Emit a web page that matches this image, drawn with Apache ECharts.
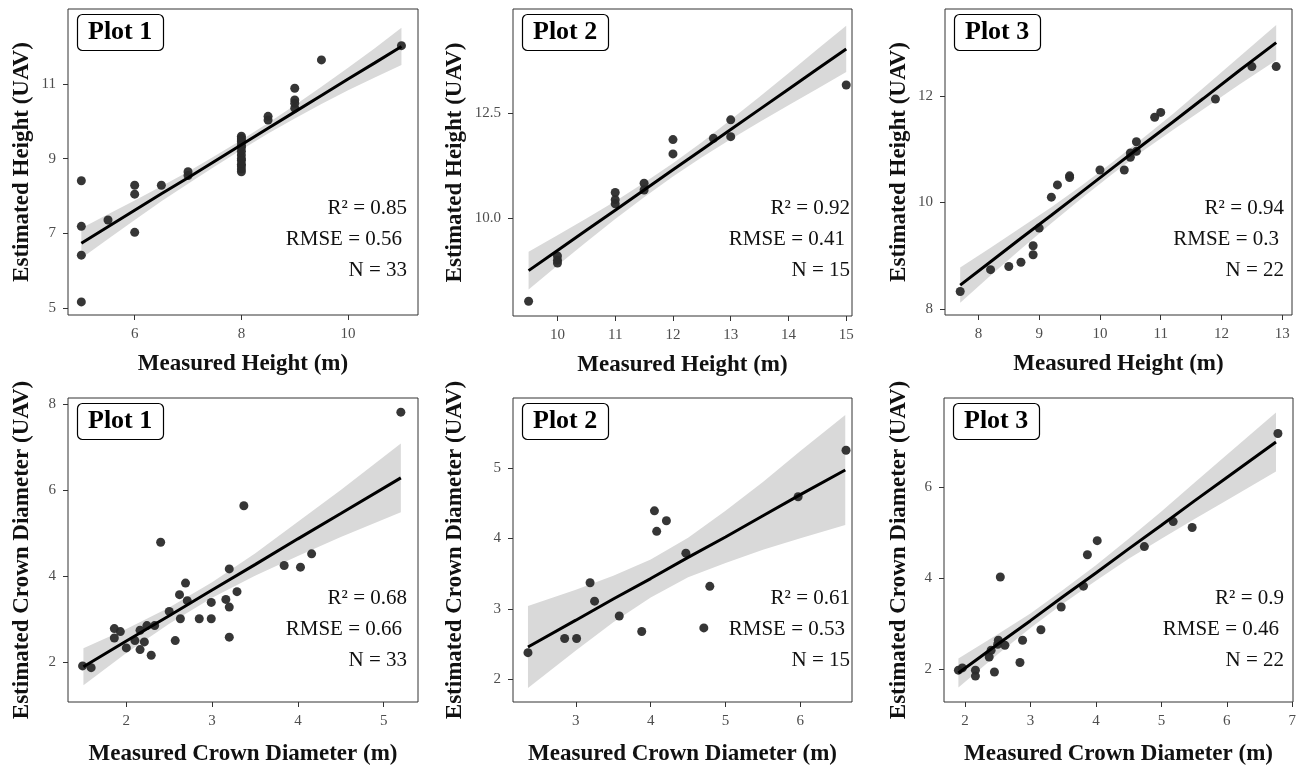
<!DOCTYPE html>
<html>
<head>
<meta charset="utf-8">
<script src="https://cdn.jsdelivr.net/npm/echarts@6/dist/echarts.min.js"></script>
<style>
  html, body { margin: 0; padding: 0; background: #fff; }
  #chart { width: 1302px; height: 767px; }
</style>
</head>
<body>
<div id="chart"></div>
<script>
// ---- data ----
// top row: measured vs estimated height
var x1 = [5, 5, 5, 5, 5.5, 6, 6, 6, 6.5, 7, 7, 8, 8, 8, 8, 8, 8, 8, 8, 8, 8, 8, 8, 8, 8, 8.5, 8.5, 9, 9, 9, 9, 9.5, 11];
var y1 = [8.41, 7.19, 6.42, 5.17, 7.36, 8.29, 8.05, 7.03, 8.29, 8.65, 8.55, 9.6, 9.55, 9.5, 9.45, 9.35, 9.3, 9.2, 9.1, 9.0, 8.95, 8.85, 8.8, 8.72, 8.65, 10.13, 10.03, 10.88, 10.57, 10.48, 10.35, 11.64, 12.02];
var x2 = [9.5, 10, 10, 10, 11, 11, 11, 11.5, 11.5, 12, 12, 12.7, 13, 13, 15];
var y2 = [8.02, 9.1, 9.0, 8.93, 10.61, 10.44, 10.34, 10.83, 10.67, 11.87, 11.53, 11.9, 12.34, 11.94, 13.17];
var x3 = [7.7, 8.2, 8.5, 8.7, 8.9, 8.9, 9.0, 9.2, 9.3, 9.5, 9.5, 10.0, 10.4, 10.5, 10.5, 10.6, 10.6, 10.9, 11.0, 11.9, 12.5, 12.9];
var y3 = [8.33, 8.74, 8.8, 8.88, 9.19, 9.02, 9.52, 10.1, 10.33, 10.5, 10.47, 10.61, 10.61, 10.93, 10.85, 11.14, 10.96, 11.6, 11.69, 11.94, 12.55, 12.55];
// bottom row: measured vs estimated crown diameter
var x4 = [1.49, 1.59, 1.86, 1.86, 1.93, 2.0, 2.1, 2.16, 2.16, 2.21, 2.24, 2.29, 2.33, 2.4, 2.5, 2.57, 2.62, 2.63, 2.69, 2.71, 2.85, 2.99, 2.99, 3.16, 3.2, 3.2, 3.2, 3.29, 3.37, 3.84, 4.03, 4.16, 5.2];
var y4 = [1.91, 1.87, 2.78, 2.56, 2.71, 2.33, 2.5, 2.74, 2.29, 2.47, 2.85, 2.16, 2.85, 4.79, 3.18, 2.5, 3.57, 3.01, 3.84, 3.43, 3.01, 3.39, 3.01, 3.46, 4.17, 3.28, 2.58, 3.64, 5.64, 4.25, 4.21, 4.52, 7.82];
var x5 = [2.36, 2.85, 3.01, 3.19, 3.25, 3.58, 3.88, 4.05, 4.08, 4.21, 4.47, 4.71, 4.79, 5.97, 6.61];
var y5 = [2.38, 2.58, 2.58, 3.37, 3.11, 2.9, 2.68, 4.39, 4.1, 4.25, 3.79, 2.73, 3.32, 4.59, 5.25];
var x6 = [1.9, 1.96, 2.16, 2.16, 2.37, 2.4, 2.45, 2.5, 2.51, 2.54, 2.61, 2.84, 2.88, 3.16, 3.47, 3.81, 3.87, 4.02, 4.74, 5.18, 5.47, 6.78];
var y6 = [1.98, 2.03, 1.98, 1.85, 2.27, 2.42, 1.94, 2.55, 2.64, 4.03, 2.53, 2.15, 2.64, 2.87, 3.37, 3.83, 4.52, 4.83, 4.7, 5.25, 5.12, 7.19];

// fitted line and confidence band (read at a few x positions)
var fx1 = [5, 5.5, 6, 6.5, 7, 7.5, 8, 8.5, 9, 9.5, 10, 10.5, 11];
var fit1 = [6.74, 7.18, 7.62, 8.06, 8.49, 8.93, 9.37, 9.81, 10.25, 10.69, 11.13, 11.56, 12.0];
var lo1 = [6.34, 6.85, 7.36, 7.86, 8.33, 8.79, 9.24, 9.67, 10.07, 10.46, 10.83, 11.17, 11.5];
var hi1 = [7.14, 7.51, 7.88, 8.26, 8.65, 9.07, 9.5, 9.95, 10.43, 10.92, 11.43, 11.95, 12.5];

var fx2 = [9.5, 10, 10.5, 11, 11.5, 12, 12.5, 13, 13.5, 14, 14.5, 15];
var fit2 = [8.75, 9.23, 9.71, 10.19, 10.67, 11.15, 11.63, 12.11, 12.59, 13.07, 13.55, 14.03];
var lo2 = [8.30, 8.87, 9.43, 9.98, 10.50, 10.99, 11.45, 11.88, 12.29, 12.69, 13.08, 13.48];
var hi2 = [9.20, 9.59, 9.99, 10.40, 10.84, 11.31, 11.81, 12.34, 12.89, 13.45, 14.02, 14.58];

var fx3 = [7.7, 8.2, 8.7, 9.2, 9.7, 10.2, 10.7, 11.2, 11.7, 12.3, 12.9];
var fit3 = [8.45, 8.89, 9.33, 9.76, 10.2, 10.64, 11.08, 11.51, 11.95, 12.48, 13.0];
var lo3 = [8.12, 8.63, 9.13, 9.61, 10.08, 10.53, 10.96, 11.36, 11.75, 12.22, 12.67];
var hi3 = [8.78, 9.15, 9.53, 9.91, 10.32, 10.75, 11.2, 11.66, 12.15, 12.74, 13.33];

var fx4 = [1.5, 2, 2.5, 3, 3.5, 4, 4.5, 5.2];
var fit4 = [1.89, 2.49, 3.08, 3.68, 4.27, 4.87, 5.46, 6.29];
var lo4 = [1.46, 2.21, 2.89, 3.50, 4.01, 4.47, 4.91, 5.49];
var hi4 = [2.32, 2.77, 3.27, 3.86, 4.53, 5.27, 6.01, 7.09];

var fx5 = [2.36, 3, 3.5, 4, 4.5, 5, 5.5, 6, 6.6];
var fit5 = [2.46, 2.84, 3.14, 3.43, 3.73, 4.02, 4.32, 4.62, 4.97];
var lo5 = [1.88, 2.41, 2.81, 3.16, 3.45, 3.65, 3.84, 4.00, 4.19];
var hi5 = [3.04, 3.27, 3.47, 3.70, 4.01, 4.39, 4.80, 5.24, 5.75];

var fx6 = [1.9, 2.5, 3, 3.5, 4, 4.5, 5, 5.5, 6, 6.75];
var fit6 = [1.92, 2.55, 3.07, 3.6, 4.12, 4.65, 5.17, 5.7, 6.22, 7.0];
var lo6 = [1.60, 2.33, 2.91, 3.45, 3.95, 4.43, 4.87, 5.30, 5.72, 6.35];
var hi6 = [2.24, 2.77, 3.23, 3.75, 4.29, 4.87, 5.47, 6.10, 6.72, 7.65];

// tick values
var xt1 = [6, 8, 10], yt1 = [5, 7, 9, 11];
var xt2 = [10, 11, 12, 13, 14, 15], yt2 = [10, 12.5];
var xt3 = [8, 9, 10, 11, 12, 13], yt3 = [8, 10, 12];
var xt4 = [2, 3, 4, 5], yt4 = [2, 4, 6, 8];
var xt5 = [3, 4, 5, 6], yt5 = [2, 3, 4, 5];
var xt6 = [2, 3, 4, 5, 6, 7], yt6 = [2, 4, 6];

var plotNames = ['Plot 1', 'Plot 2', 'Plot 3', 'Plot 1', 'Plot 2', 'Plot 3'];
var r2 = ['0.85', '0.92', '0.94', '0.68', '0.61', '0.9'];
var rmse = ['0.56', '0.41', '0.3', '0.66', '0.53', '0.46'];
var nObs = ['33', '15', '22', '33', '15', '22'];

// ---- layout ----
var serif = 'Liberation Serif';
var panels = [
  { g: [68, 9, 350, 306], xr: [4.75, 11.31], yr: [4.82, 13.0], xs: x1, ys: y1, fx: fx1, fit: fit1, lo: lo1, hi: hi1, xt: xt1, yt: yt1, txtR: 407, txtY: 208, yGap: 34, ytDec: 0 },
  { g: [513, 9, 339, 307], xr: [9.23, 15.10], yr: [7.67, 14.98], xs: x2, ys: y2, fx: fx2, fit: fit2, lo: lo2, hi: hi2, xt: xt2, yt: yt2, txtR: 850, txtY: 208, yGap: 46, ytDec: 1 },
  { g: [945, 9, 347, 306], xr: [7.45, 13.16], yr: [7.89, 13.63], xs: x3, ys: y3, fx: fx3, fit: fit3, lo: lo3, hi: hi3, xt: xt3, yt: yt3, txtR: 1284, txtY: 208, yGap: 34, ytDec: 0 },
  { g: [68, 398, 350, 305], xr: [1.32, 5.40], yr: [1.07, 8.15], xs: x4, ys: y4, fx: fx4, fit: fit4, lo: lo4, hi: hi4, xt: xt4, yt: yt4, txtR: 407, txtY: 598, yGap: 34, ytDec: 0 },
  { g: [513, 398, 339, 306], xr: [2.16, 6.69], yr: [1.68, 5.99], xs: x5, ys: y5, fx: fx5, fit: fit5, lo: lo5, hi: hi5, xt: xt5, yt: yt5, txtR: 850, txtY: 598, yGap: 46, ytDec: 0 },
  { g: [944, 398, 349, 305], xr: [1.68, 7.01], yr: [1.28, 7.97], xs: x6, ys: y6, fx: fx6, fit: fit6, lo: lo6, hi: hi6, xt: xt6, yt: yt6, txtR: 1284, txtY: 598, yGap: 33, ytDec: 0 }
];

var grids = [], xAxes = [], yAxes = [], series = [], titles = [], graphics = [];

panels.forEach(function (p, i) {
  var top = i < 3;
  grids.push({
    left: p.g[0], top: p.g[1], width: p.g[2], height: p.g[3],
    show: true, borderColor: '#333', borderWidth: 1, backgroundColor: '#fff'
  });
  xAxes.push({
    type: 'value', gridIndex: i, min: p.xr[0], max: p.xr[1],
    name: top ? 'Measured Height (m)' : 'Measured Crown Diameter (m)',
    nameLocation: 'middle', nameGap: top ? 38 : 41,
    nameTextStyle: { fontFamily: serif, fontWeight: 'bold', fontSize: 23, color: '#111' },
    axisLine: { show: false },
    axisTick: { show: true, length: 5, lineStyle: { color: '#333' }, customValues: p.xt },
    axisLabel: { fontFamily: serif, fontSize: 15, color: '#4d4d4d', margin: 12, customValues: p.xt },
    splitLine: { show: false }
  });
  yAxes.push({
    type: 'value', gridIndex: i, min: p.yr[0], max: p.yr[1],
    name: top ? 'Estimated Height (UAV)' : 'Estimated Crown Diameter (UAV)',
    nameLocation: 'middle', nameGap: p.yGap, nameRotate: 90,
    nameTextStyle: { fontFamily: serif, fontWeight: 'bold', fontSize: 23, color: '#111' },
    axisLine: { show: false },
    axisTick: { show: true, length: 5, lineStyle: { color: '#333' }, customValues: p.yt },
    axisLabel: {
      fontFamily: serif, fontSize: 15, color: '#4d4d4d', margin: 12, customValues: p.yt,
      formatter: (function (d) { return function (v) { return v.toFixed(d); }; })(p.ytDec)
    },
    splitLine: { show: false }
  });

  // confidence band
  series.push({
    type: 'custom', xAxisIndex: i, yAxisIndex: i, silent: true, z: 1,
    data: [0],
    renderItem: (function (pp) {
      return function (params, api) {
        var pts = [];
        for (var k = 0; k < pp.fx.length; k++) pts.push(api.coord([pp.fx[k], pp.hi[k]]));
        for (var k2 = pp.fx.length - 1; k2 >= 0; k2--) pts.push(api.coord([pp.fx[k2], pp.lo[k2]]));
        return { type: 'polygon', shape: { points: pts }, style: { fill: '#d9d9d9' } };
      };
    })(p)
  });
  // points
  series.push({
    type: 'scatter', xAxisIndex: i, yAxisIndex: i, z: 2,
    symbolSize: 9,
    itemStyle: { color: '#2b2b2b', opacity: 0.95 },
    data: p.xs.map(function (v, k) { return [v, p.ys[k]]; })
  });
  // fitted line
  series.push({
    type: 'line', xAxisIndex: i, yAxisIndex: i, z: 3,
    symbol: 'none', smooth: false,
    lineStyle: { color: '#000', width: 3 },
    data: p.fx.map(function (v, k) { return [v, p.fit[k]]; })
  });

  titles.push({
    text: plotNames[i],
    left: p.g[0] + 9, top: p.g[1] + 5,
    padding: [4, 11],
    borderColor: '#000', borderWidth: 1.2, borderRadius: 5,
    backgroundColor: '#fff',
    textStyle: { fontFamily: serif, fontWeight: 'bold', fontSize: 26, color: '#000', lineHeight: 29 }
  });

  var ann = [
    { t: 'R\u00b2 = ' + r2[i], dx: 0, dy: 0 },
    { t: 'RMSE = ' + rmse[i], dx: -5, dy: 31 },
    { t: 'N = ' + nObs[i], dx: 0, dy: 62 }
  ];
  ann.forEach(function (a) {
    graphics.push({
      type: 'text', x: p.txtR + a.dx, y: p.txtY + a.dy, z: 10,
      style: { text: a.t, font: '21px "Liberation Serif"', fill: '#111', textAlign: 'right', textVerticalAlign: 'middle' }
    });
  });
});

var myChart = echarts.init(document.getElementById('chart'), null, { renderer: 'canvas' });
myChart.setOption({
  backgroundColor: '#fff',
  animation: false,
  title: titles,
  grid: grids,
  xAxis: xAxes,
  yAxis: yAxes,
  series: series,
  graphic: graphics
});
</script>
</body>
</html>
